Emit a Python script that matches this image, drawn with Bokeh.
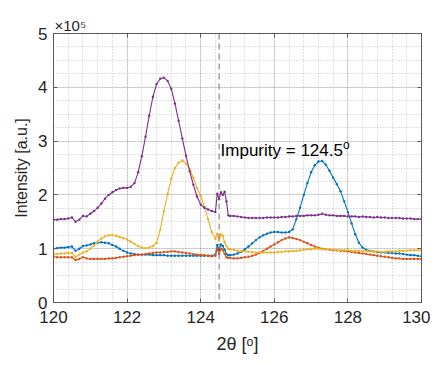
from bokeh.plotting import figure
from bokeh.models import (LinearAxis, SingleIntervalTicker, Span, Label,
                          CustomJSTickFormatter)
from bokeh.embed import file_html
from bokeh.resources import INLINE

# ---- data (intensity in units of 1e5) ----
two_theta = [
    120.0, 120.1, 120.2, 120.3, 120.4, 120.5, 120.6, 120.7, 120.8, 120.9,
    121.0, 121.1, 121.2, 121.3, 121.4, 121.5, 121.6, 121.7, 121.8, 121.9,
    122.0, 122.1, 122.2, 122.3, 122.4, 122.5, 122.6, 122.7, 122.8, 122.9,
    123.0, 123.1, 123.2, 123.3, 123.4, 123.5, 123.6, 123.7, 123.8, 123.9,
    124.0, 124.1, 124.2, 124.3, 124.4,
    124.45, 124.5, 124.55, 124.6, 124.65, 124.7, 124.75,
    124.8, 124.9,
    125.0, 125.1, 125.2, 125.3, 125.4, 125.5, 125.6, 125.7, 125.8, 125.9,
    126.0, 126.1, 126.2, 126.3, 126.4, 126.5, 126.6, 126.7, 126.8, 126.9,
    127.0, 127.1, 127.2, 127.3, 127.4, 127.5, 127.6, 127.7, 127.8, 127.9,
    128.0, 128.1, 128.2, 128.3, 128.4, 128.5, 128.6, 128.7, 128.8, 128.9,
    129.0, 129.1, 129.2, 129.3, 129.4, 129.5, 129.6, 129.7, 129.8, 129.9,
    130.0,
]

blue = [
    1.00, 1.01, 1.02, 1.02, 1.03, 1.04, 0.96, 1.00, 1.05, 1.06,
    1.08, 1.10, 1.11, 1.12, 1.11, 1.10, 1.07, 1.04, 1.00, 0.96,
    0.93, 0.91, 0.90, 0.89, 0.89, 0.89, 0.89, 0.88, 0.88, 0.88,
    0.88, 0.87, 0.87, 0.87, 0.87, 0.87, 0.87, 0.87, 0.87, 0.87,
    0.87, 0.87, 0.87, 0.87, 0.89,
    1.07, 0.97, 1.08, 1.05, 0.98, 0.90, 0.88,
    0.88, 0.89,
    0.91, 0.94, 0.99, 1.04, 1.10, 1.16, 1.21, 1.25, 1.28, 1.30,
    1.31, 1.31, 1.30, 1.30, 1.31, 1.36, 1.55, 1.76, 2.00, 2.22,
    2.42, 2.55, 2.62, 2.63, 2.56, 2.45, 2.32, 2.20, 2.07, 1.88,
    1.68, 1.47, 1.27, 1.11, 1.02, 0.98, 0.96, 0.95, 0.94, 0.93,
    0.93, 0.92, 0.92, 0.91, 0.91, 0.90, 0.89, 0.88, 0.88, 0.87,
    0.86,
]

red = [
    0.85, 0.84, 0.84, 0.84, 0.84, 0.84, 0.79, 0.81, 0.84, 0.82,
    0.81, 0.81, 0.81, 0.81, 0.81, 0.82, 0.82, 0.83, 0.84, 0.85,
    0.86, 0.87, 0.88, 0.89, 0.89, 0.90, 0.91, 0.92, 0.93, 0.93,
    0.94, 0.94, 0.95, 0.95, 0.94, 0.93, 0.92, 0.91, 0.90, 0.89,
    0.88, 0.88, 0.87, 0.86, 0.87,
    1.00, 0.90, 1.00, 0.98, 0.90, 0.84, 0.83,
    0.83, 0.82,
    0.82, 0.83, 0.84, 0.85, 0.87, 0.89, 0.92, 0.96, 1.00, 1.04,
    1.08, 1.12, 1.16, 1.19, 1.21, 1.20, 1.18, 1.16, 1.13, 1.10,
    1.07, 1.04, 1.02, 1.00, 0.99, 0.98, 0.97, 0.97, 0.96, 0.96,
    0.95, 0.94, 0.93, 0.92, 0.91, 0.90, 0.89, 0.88, 0.87, 0.86,
    0.85, 0.84, 0.83, 0.82, 0.82, 0.81, 0.81, 0.81, 0.81, 0.81,
    0.81,
]

yellow = [
    0.90, 0.90, 0.91, 0.91, 0.92, 0.92, 0.85, 0.89, 0.93, 0.95,
    1.00, 1.06, 1.13, 1.19, 1.23, 1.25, 1.25, 1.24, 1.22, 1.20,
    1.17, 1.13, 1.09, 1.05, 1.02, 1.01, 1.02, 1.05, 1.11, 1.35,
    1.70, 2.02, 2.30, 2.50, 2.60, 2.64, 2.58, 2.48, 2.32, 2.13,
    1.98, 1.78, 1.55, 1.31, 1.18,
    1.28, 1.15, 1.27, 1.24, 1.12, 1.05, 1.00,
    0.99, 0.98,
    0.96, 0.95, 0.95, 0.94, 0.94, 0.93, 0.93, 0.93, 0.93, 0.93,
    0.93, 0.94, 0.94, 0.95, 0.95, 0.96, 0.96, 0.97, 0.98, 0.99,
    0.99, 1.00, 1.00, 0.99, 0.99, 0.98, 0.98, 0.97, 0.97, 0.97,
    0.97, 0.96, 0.96, 0.96, 0.96, 0.96, 0.95, 0.95, 0.95, 0.94,
    0.94, 0.95, 0.95, 0.95, 0.96, 0.96, 0.96, 0.97, 0.97, 0.97,
    0.97,
]

purple = [
    1.54, 1.54, 1.55, 1.55, 1.56, 1.58, 1.50, 1.54, 1.61, 1.60,
    1.65, 1.70, 1.76, 1.84, 1.93, 2.00, 2.05, 2.09, 2.12, 2.13,
    2.13, 2.15, 2.22, 2.42, 2.72, 3.08, 3.47, 3.82, 4.06, 4.16,
    4.18, 4.12, 3.97, 3.70, 3.38, 3.05, 2.73, 2.44, 2.19, 1.97,
    1.82, 1.76, 1.73, 1.70, 1.68,
    2.02, 1.92, 2.05, 2.00, 2.06, 1.88, 1.62,
    1.61, 1.61,
    1.60, 1.59, 1.58, 1.57, 1.57, 1.57, 1.57, 1.57, 1.58, 1.58,
    1.58, 1.58, 1.59, 1.59, 1.60, 1.60, 1.61, 1.61, 1.61, 1.62,
    1.62, 1.62, 1.63, 1.65, 1.63, 1.62, 1.62, 1.61, 1.61, 1.61,
    1.60, 1.60, 1.60, 1.59, 1.60, 1.59, 1.59, 1.58, 1.59, 1.58,
    1.58, 1.57, 1.57, 1.57, 1.57, 1.56, 1.56, 1.56, 1.55, 1.55,
    1.55,
]

series = [
    (blue, "#0072BD"),
    (red, "#D95319"),
    (yellow, "#EDB120"),
    (purple, "#7E2F8E"),
]

impurity = 124.5
x_ticks_interval = 2
y_ticks_interval = 1

FONT = "Liberation Sans"
TXT = "#262626"

p = figure(width=430, height=360, x_range=(120, 130), y_range=(0, 5),
           output_backend="svg", toolbar_location=None,
           min_border_left=53, min_border_right=9,
           min_border_top=33, min_border_bottom=58,
           title="\u00d710\u2075")
p.background_fill_color = "white"
p.border_fill_color = "white"
p.outline_line_color = "#5a5a5a"
p.outline_line_width = 1

p.title.text_font = FONT
p.title.text_font_size = "15px"
p.title.text_font_style = "normal"
p.title.text_color = TXT
p.title.align = "left"
p.title.offset = 1
p.title.standoff = 0

xt = SingleIntervalTicker(interval=x_ticks_interval, num_minor_ticks=5)
yt = SingleIntervalTicker(interval=y_ticks_interval, num_minor_ticks=4)
p.xaxis.ticker = xt
p.yaxis.ticker = yt

for g, t in ((p.xgrid, xt), (p.ygrid, yt)):
    g.ticker = t
    g.grid_line_color = "#262626"
    g.grid_line_alpha = 0.15
    g.minor_grid_line_color = "#262626"
    g.minor_grid_line_alpha = 0.28
    g.minor_grid_line_dash = "1 2"

def style_axis(ax):
    ax.axis_line_color = "#5a5a5a"
    ax.major_tick_line_color = "#5a5a5a"
    ax.major_tick_in = 4
    ax.major_tick_out = 0
    ax.minor_tick_in = 0
    ax.minor_tick_out = 0
    ax.major_label_text_font = FONT
    ax.major_label_text_font_size = "17px"
    ax.major_label_text_color = TXT
    ax.axis_label_text_font = FONT
    ax.axis_label_text_font_style = "normal"
    ax.axis_label_text_color = TXT

style_axis(p.xaxis[0])
style_axis(p.yaxis[0])
p.xaxis.major_label_standoff = 8
p.xaxis.axis_label = "2\u03b8 [\u1d52]"
p.xaxis.axis_label_text_font_size = "18px"
p.xaxis.axis_label_standoff = 8
p.yaxis.major_label_standoff = 6
p.yaxis.axis_label = "Intensity [a.u.]"
p.yaxis.axis_label_text_font_size = "16px"
p.yaxis.axis_label_standoff = 5

blank = CustomJSTickFormatter(code="return ''")
top = LinearAxis(ticker=xt, formatter=blank, major_label_standoff=0)
right = LinearAxis(ticker=yt, formatter=blank, major_label_standoff=0)
style_axis(top)
style_axis(right)
top.major_label_text_font_size = "1px"
right.major_label_text_font_size = "1px"
p.add_layout(top, "above")
p.add_layout(right, "right")

p.add_layout(Span(location=impurity, dimension="height",
                  line_color="#707070", line_width=1, line_dash="6 4"))

for ys, c in series:
    p.line(two_theta, ys, line_color=c, line_width=1.1)
    p.scatter(two_theta, ys, size=2.4, marker="circle",
              fill_color=c, line_color=c, line_width=0)

# annotation
p.add_layout(Label(x=124.54, y=2.83, text="Impurity = 124.5",
                   text_font=FONT, text_font_size="17px", text_color="black",
                   text_baseline="alphabetic"))
p.add_layout(Label(x=127.87, y=2.93, text="o",
                   text_font=FONT, text_font_size="12px", text_color="black",
                   text_baseline="alphabetic"))

open("out.html", "w").write(file_html(p, INLINE))
